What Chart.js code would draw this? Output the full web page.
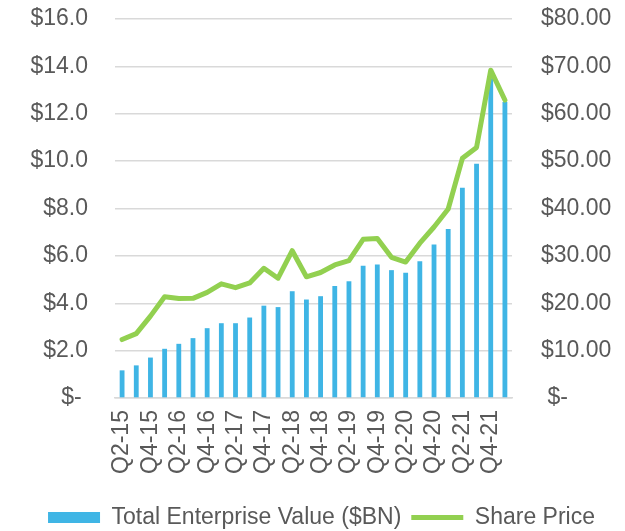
<!DOCTYPE html>
<html>
<head>
<meta charset="utf-8">
<script src="https://cdn.jsdelivr.net/npm/chart.js@4/dist/chart.umd.min.js"></script>
<style>
html,body{margin:0;padding:0;background:#fff;}
canvas{display:block;}
</style>
</head>
<body>
<canvas id="c" width="625" height="531"></canvas>
<script>
const quarters = ["Q2-15","Q3-15","Q4-15","Q1-16","Q2-16","Q3-16","Q4-16","Q1-17","Q2-17","Q3-17","Q4-17","Q1-18","Q2-18","Q3-18","Q4-18","Q1-19","Q2-19","Q3-19","Q4-19","Q1-20","Q2-20","Q3-20","Q4-20","Q1-21","Q2-21","Q3-21","Q4-21","Q1-22"];
const enterpriseValue = [1.17,1.38,1.71,2.08,2.29,2.53,2.95,3.16,3.16,3.40,3.90,3.84,4.51,4.16,4.30,4.73,4.93,5.59,5.64,5.40,5.29,5.77,6.48,7.14,8.88,9.89,13.5,12.5];
const sharePrice = [12.35,13.6,17.3,21.4,21.0,21.05,22.3,24.1,23.3,24.3,27.4,25.3,31.1,25.6,26.5,28.1,29.0,33.5,33.7,29.7,28.7,32.7,36.1,39.9,50.6,52.9,69.2,62.9];
const leftTicks = [0,2,4,6,8,10,12,14,16];
const rightTicks = [0,10,20,30,40,50,60,70,80];

const FONT = {family: "'Liberation Sans', Arial, sans-serif", size: 23};
const TXT = '#595959';

function noPad(s) { s.paddingLeft = 0; s.paddingRight = 0; s.paddingTop = 0; s.paddingBottom = 0; }

new Chart(document.getElementById('c'), {
  data: {
    labels: quarters,
    datasets: [
      {
        type: 'line',
        label: 'Share Price',
        data: sharePrice,
        yAxisID: 'y1',
        borderColor: '#92D050',
        backgroundColor: '#92D050',
        borderWidth: 5,
        pointRadius: 0,
        pointStyle: 'line',
        tension: 0,
        borderJoinStyle: 'round',
        borderCapStyle: 'round',
        order: 0
      },
      {
        type: 'bar',
        label: 'Total Enterprise Value ($BN)',
        data: enterpriseValue,
        yAxisID: 'y',
        backgroundColor: '#3FB5E5',
        borderWidth: 0,
        pointStyle: 'rect',
        categoryPercentage: 1,
        barPercentage: 0.34,
        order: 1
      }
    ]
  },
  options: {
    responsive: false,
    animation: false,
    layout: {padding: {left: 30, right: 12, top: 19, bottom: -8}},
    plugins: {
      tooltip: {enabled: false},
      legend: {
        position: 'bottom',
        reverse: true,
        labels: {
          font: FONT,
          color: TXT,
          usePointStyle: true,
          pointStyleWidth: 52,
          boxHeight: 11,
          padding: 10
        }
      }
    },
    scales: {
      x: {
        grid: {display: false, drawTicks: false},
        border: {display: true, color: '#d9d9d9', width: 1.5},
        afterFit: s => { noPad(s); s.height += 10; },
        ticks: {
          autoSkip: false,
          maxRotation: 90,
          minRotation: 90,
          padding: 12,
          font: FONT,
          color: TXT,
          callback: function(v, i) { return i % 2 === 0 ? quarters[i] : ''; }
        }
      },
      y: {
        position: 'left',
        min: 0, max: 16,
        afterBuildTicks: s => { s.ticks = leftTicks.map(v => ({value: v})); },
        afterFit: s => { noPad(s); s.width = 85; },
        grid: {color: '#d9d9d9', lineWidth: 1.5, drawTicks: false},
        border: {display: false},
        ticks: {
          padding: 27,
          font: FONT,
          color: TXT,
          callback: v => v === 0 ? '$- ' : '$' + v.toFixed(1)
        }
      },
      y1: {
        position: 'right',
        min: 0, max: 80,
        afterBuildTicks: s => { s.ticks = rightTicks.map(v => ({value: v})); },
        afterFit: s => { noPad(s); s.width = 101; },
        grid: {drawOnChartArea: false, drawTicks: false},
        border: {display: false},
        ticks: {
          padding: 29,
          font: FONT,
          color: TXT,
          callback: v => v === 0 ? ' $-' : '$' + v.toFixed(2)
        }
      }
    }
  }
});
</script>
</body>
</html>
